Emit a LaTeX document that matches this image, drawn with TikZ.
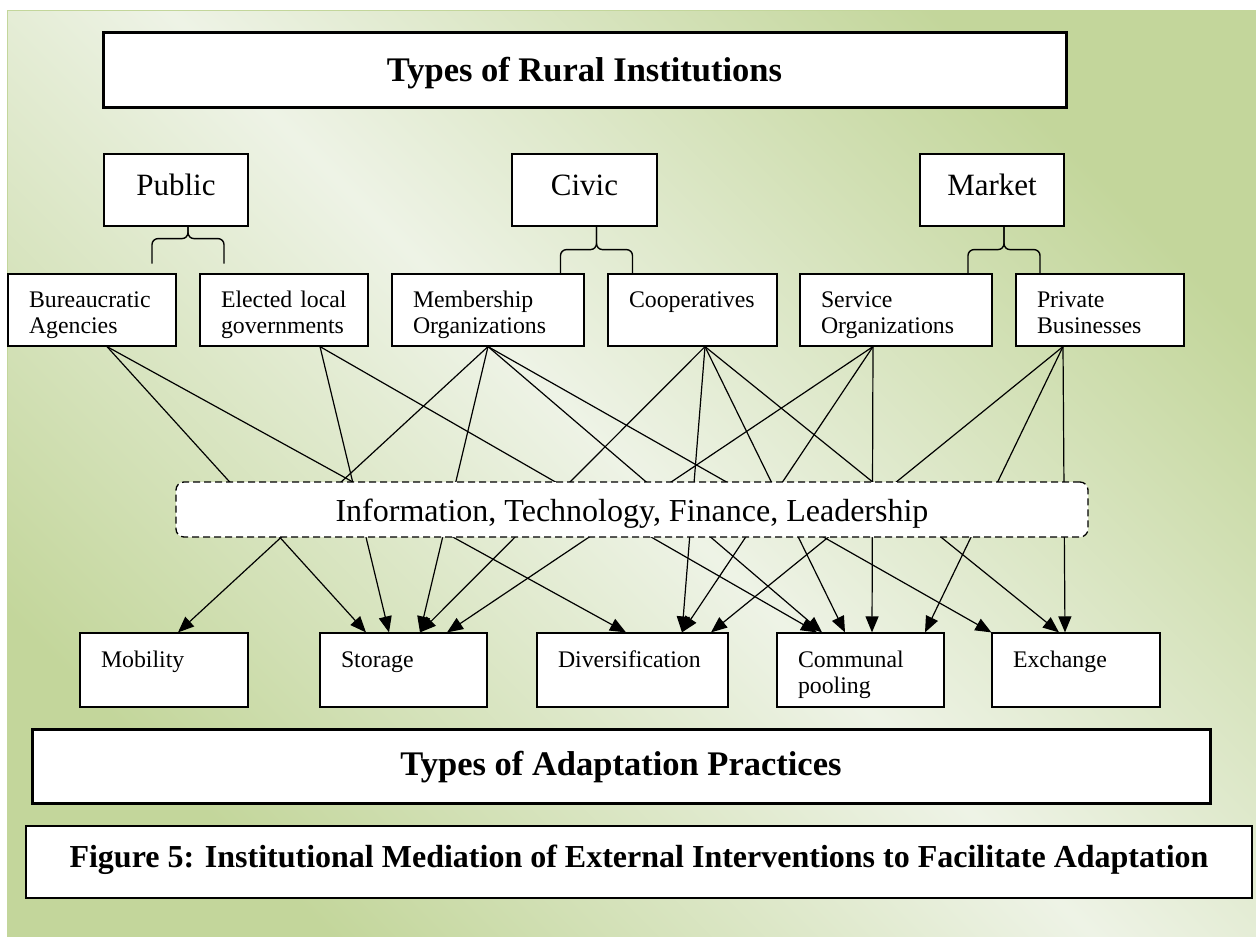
\documentclass[tikz,border=0pt]{standalone}
\usepackage{fontspec}
\setmainfont{Liberation Serif}
\usetikzlibrary{arrows.meta}
\definecolor{leaf}{RGB}{195,214,155}
\definecolor{mist}{RGB}{238,243,230}

\tikzset{
 box/.style={draw, fill=white, line width=1.2pt, inner sep=0pt},
 heading/.style={box, line width=3pt, font=\bfseries\fontsize{34.5}{40}\selectfont},
 kind/.style={box, minimum width=144pt, minimum height=72pt, text height=22pt, text depth=12pt, font=\fontsize{31}{36}\selectfont},
 cell/.style={box, inner xsep=21pt, minimum height=72pt, text width=#1, align=left, text height=20pt, text depth=26pt, font=\fontsize{23.8}{26}\selectfont},
 cell/.default=126pt,
 feed/.style={line width=1.2pt, -{Triangle[length=16pt,width=13pt]}},
 clamp/.style={line width=1.4pt, rounded corners=6pt},
}

\begin{document}
\begin{tikzpicture}[x=1pt,y=-1pt]

\useasboundingbox (0,0) rectangle (1256,937);
\shade[top color=leaf, bottom color=leaf, middle color=mist, shading angle=-45, draw=leaf] (7,10) rectangle (1256,937);

% institutions
\node[heading, minimum width=963pt, minimum height=75pt, text height=24pt, text depth=1pt] (rural) at (584.5,69.5) {Types of Rural Institutions};

\node[kind] (public) at (176,190) {Public};
\node[kind, minimum width=145pt] (civic) at (584.5,190) {Civic};
\node[kind] (market) at (992,190) {Market};

\node[cell] (bur) at (92,310) {Bureaucratic\\Agencies};
\node[cell] (elec) at (284,310) {Elected local\\governments};
\node[cell=150pt] (memb) at (488,310) {Membership\\Organizations};
\node[cell=127pt] (coop) at (692.5,310) {Cooperatives};
\node[cell=150pt] (serv) at (896,310) {Service\\Organizations};
\node[cell] (priv) at (1100,310) {Private\\Businesses};

% braces under the three kinds
\draw[clamp] ([xshift=12pt]public.south) |- ++(-36,12) -- ++(0,25);
\draw[clamp] ([xshift=12pt]public.south) |- ++(36,12) -- ++(0,25);
\draw[clamp] ([xshift=12pt]civic.south) |- ++(-36,23) -- ++(0,25);
\draw[clamp] ([xshift=12pt]civic.south) |- ++(36,23) -- ++(0,25);
\draw[clamp] ([xshift=12pt]market.south) |- ++(-36,23) -- ++(0,25);
\draw[clamp] ([xshift=12pt]market.south) |- ++(36,23) -- ++(0,25);

% practices
\node[cell, minimum height=74pt] (mob) at (164,670) {Mobility};
\node[cell, minimum height=74pt, text width=125pt] (stor) at (403.5,670) {Storage};
\node[cell=149pt, minimum height=74pt] (div) at (632.5,670) {Diversification};
\node[cell, minimum height=74pt, text width=125pt] (comm) at (860.5,670) {Communal\\pooling};
\node[cell, minimum height=74pt] (exch) at (1076,670) {Exchange};

\node[heading, minimum width=1178pt, minimum height=74pt, text height=23pt, text depth=5pt] (adapt) at (621,766) {Types of Adaptation Practices};

\node[box, minimum width=1226pt, minimum height=72pt, text height=22pt, text depth=12pt, font=\bfseries\fontsize{32}{36}\selectfont] (fig) at (639,862) {Figure 5: Institutional Mediation of External Interventions to Facilitate Adaptation};

% links
\draw[feed] ([xshift=15pt]bur.south) -- ([xshift=-37.5pt]stor.north);
\draw[feed] ([xshift=15pt]bur.south) -- ([xshift=-6.5pt]div.north);

\draw[feed] ([xshift=36pt]elec.south) -- ([xshift=-14.5pt]stor.north);
\draw[feed] ([xshift=36pt]elec.south) -- ([xshift=-43.5pt]comm.north);

\draw[feed] (memb.south) -- ([xshift=14pt]mob.north);
\draw[feed] (memb.south) -- ([xshift=16.5pt]stor.north);
\draw[feed] (memb.south) -- ([xshift=-38.5pt]comm.north);
\draw[feed] (memb.south) -- (exch.north west);

\draw[feed] ([xshift=12.5pt]coop.south) -- ([xshift=16.5pt]stor.north);
\draw[feed] ([xshift=12.5pt]coop.south) -- ([xshift=49.5pt]div.north);
\draw[feed] ([xshift=12.5pt]coop.south) -- ([xshift=-15.5pt]comm.north);
\draw[feed] ([xshift=12.5pt]coop.south) -- ([xshift=-17pt]exch.north);

\draw[feed] ([xshift=-23pt]serv.south) -- ([xshift=43.5pt]stor.north);
\draw[feed] ([xshift=-23pt]serv.south) -- ([xshift=49.5pt]div.north);
\draw[feed] ([xshift=-23pt]serv.south) -- ([xshift=11.5pt]comm.north);

\draw[feed] ([xshift=-37pt]priv.south) -- ([xshift=78.5pt]div.north);
\draw[feed] ([xshift=-37pt]priv.south) -- ([xshift=64.5pt]comm.north);
\draw[feed] ([xshift=-37pt]priv.south) -- ([xshift=-11pt]exch.north);

% the box in the middle hides the crossings
\node[box, dash pattern=on 7pt off 4pt, rounded corners=8pt, line width=1.3pt, minimum width=912pt, minimum height=55pt, text height=24pt, text depth=1pt, font=\fontsize{32}{36}\selectfont] (means) at (632,509.5) {Information, Technology, Finance, Leadership};

\end{tikzpicture}
\end{document}
